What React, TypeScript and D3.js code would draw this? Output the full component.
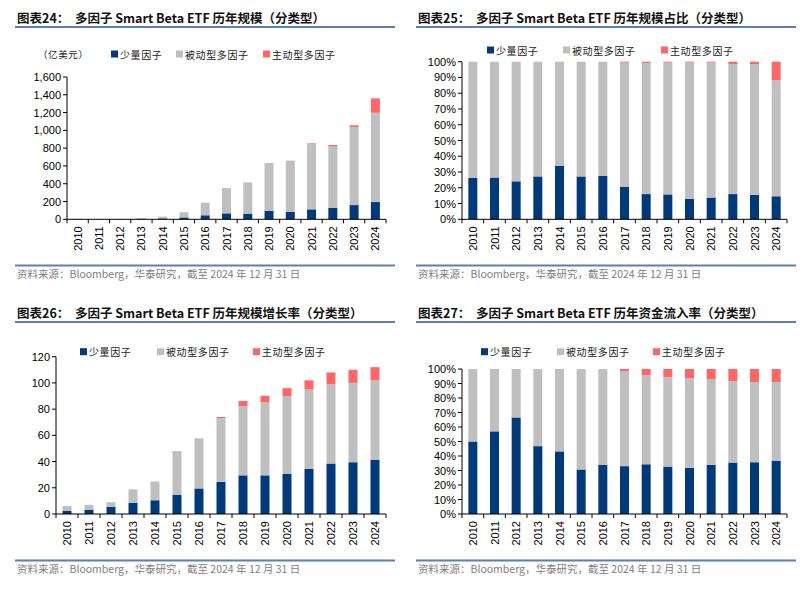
import * as d3 from 'd3';

const YEARS = ['2010', '2011', '2012', '2013', '2014', '2015', '2016', '2017', '2018', '2019', '2020', '2021', '2022', '2023', '2024'];
const SERIES_NAMES = ['少量因子', '被动型多因子', '主动型多因子'];
const COLORS = ['#003A7A', '#BFBFBF', '#FF6666'];

// 图表24 历年规模 (亿美元)
const AUM_FEW = [1.3, 0.5, 1, 4, 10, 21, 45, 67, 64, 97, 85, 112, 130, 160, 194];
const AUM_PASSIVE = [3.7, 1.5, 3, 11, 20, 58, 142, 277, 347, 533, 570, 741, 688, 875, 1004];
const AUM_ACTIVE = [0, 0, 0, 0, 0, 0, 0, 5, 3, 3, 3, 5, 17, 22, 162];
const AUM_TICKS = [0, 200, 400, 600, 800, 1000, 1200, 1400, 1600];

// 图表25 历年规模占比 (%)
const SHARE_FEW = [26.2, 26.5, 24.1, 27.2, 34, 27.2, 27.5, 20.5, 16, 15.8, 13, 13.8, 16, 15.5, 14.6];
const SHARE_PASSIVE = [73.8, 73.5, 75.9, 72.8, 66, 72.8, 72.5, 78.9, 83.2, 83.6, 86.4, 85.6, 82.5, 83, 73.6];
const SHARE_ACTIVE = [0, 0, 0, 0, 0, 0, 0, 0.6, 0.8, 0.6, 0.6, 0.6, 1.5, 1.5, 11.8];
const PCT_TICKS = [0, 10, 20, 30, 40, 50, 60, 70, 80, 90, 100];

// 图表26 历年规模增长率
const GROWTH_FEW = [2.5, 3.3, 5.5, 8.6, 10.5, 14.5, 19.5, 24.5, 29.5, 29.5, 30.5, 34.5, 38.5, 39.5, 41.5];
const GROWTH_PASSIVE = [3.5, 3.7, 3.5, 10.2, 14.3, 33.5, 38.3, 48.5, 52.9, 55.7, 59.5, 60.5, 60.5, 60.5, 60.5];
const GROWTH_ACTIVE = [0, 0, 0, 0, 0, 0, 0, 1, 3.8, 5, 6, 7, 9, 10, 10];
const GROWTH_TICKS = [0, 20, 40, 60, 80, 100, 120];

// 图表27 历年资金流入率 (%)
const FLOW_FEW = [50, 57, 66.6, 46.8, 43.2, 30.7, 34, 33, 34.3, 32.7, 31.8, 33.9, 35.5, 35.7, 36.8];
const FLOW_PASSIVE = [50, 43, 33.4, 53.2, 56.8, 69.3, 66, 65.6, 61.3, 61.8, 62, 59.2, 56.2, 55.3, 54.2];
const FLOW_ACTIVE = [0, 0, 0, 0, 0, 0, 0, 1.4, 4.4, 5.5, 6.2, 6.9, 8.3, 9, 9];

const SOURCE = '资料来源：Bloomberg，华泰研究，截至 2024 年 12 月 31 日';
const CJK = '"Noto Sans CJK SC", sans-serif';
const NUM = '"Liberation Sans", Arial, sans-serif';
const RULE = '#5F7FAF';

interface Box { l: number; r: number; t: number; b: number }

interface PanelProps {
  x0: number;
  y0: number;
  title: string;
  values: number[][];
  ticks: number[];
  fmt: (v: number) => string;
  plot: Box;
  legendY: number;
  legendXs: number[];
  unit?: string;
  sourceY: number;
}

function Panel({ x0, y0, title, values, ticks, fmt, plot, legendY, legendXs, unit, sourceY }: PanelProps) {
  const rows = YEARS.map((y, i) => ({ year: y, a: values[0][i], b: values[1][i], c: values[2][i] }));
  const stacked = d3.stack<{ year: string; a: number; b: number; c: number }>().keys(['a', 'b', 'c'])(rows);

  const x = d3.scaleBand().domain(YEARS).range([plot.l, plot.r]).padding(0);
  const y = d3.scaleLinear().domain([ticks[0], ticks[ticks.length - 1]]).range([plot.b, plot.t]);
  const barW = 9;
  const step = x.step();

  return (
    <g>
      <text x={x0 + 2} y={y0 + 22.5} fontFamily={CJK} fontWeight={700} fontSize={12.5} fill="#111" style={{ whiteSpace: 'pre' }}>
        {title}
      </text>
      <line x1={x0} x2={x0 + 380} y1={y0 + 27} y2={y0 + 27} stroke={RULE} strokeWidth={2} />

      {unit && (
        <text x={x0 + 23} y={legendY} dominantBaseline="central" fontFamily={CJK} fontSize={9.5} fill="#222" letterSpacing={0.6}>
          {unit}
        </text>
      )}

      {/* legend */}
      {SERIES_NAMES.map((name, i) => (
        <g key={name}>
          <rect x={legendXs[i]} y={legendY - 3.5} width={7} height={7} fill={COLORS[i]} />
          <text x={legendXs[i] + 9} y={legendY} dominantBaseline="central" fontFamily={CJK} fontSize={10} fill="#222" letterSpacing={0.6}>
            {name}
          </text>
        </g>
      ))}

      {/* bars */}
      {stacked.map((s, si) => (
        <g key={s.key} fill={COLORS[si]}>
          {s.map((d, i) => {
            const h = y(d[0]) - y(d[1]);
            if (h <= 0) return null;
            return (
              <rect
                key={i}
                x={(x(YEARS[i]) ?? 0) + (step - barW) / 2}
                y={y(d[1])}
                width={barW}
                height={h}
              />
            );
          })}
        </g>
      ))}

      {/* y axis */}
      <line x1={plot.l} x2={plot.l} y1={plot.t} y2={plot.b} stroke="#000" strokeWidth={1} />
      {ticks.map((t) => (
        <g key={t}>
          <line x1={plot.l - 4} x2={plot.l} y1={y(t)} y2={y(t)} stroke="#000" />
          <text x={plot.l - 6} y={y(t)} textAnchor="end" dominantBaseline="central" fontFamily={NUM} fontSize={11} fill="#000">
            {fmt(t)}
          </text>
        </g>
      ))}

      {/* x axis */}
      <line x1={plot.l} x2={plot.r} y1={plot.b} y2={plot.b} stroke="#000" strokeWidth={1} />
      {YEARS.map((yr, i) => {
        const bx = x(yr) ?? 0;
        return (
          <g key={yr}>
            <line x1={bx + step} x2={bx + step} y1={plot.b} y2={plot.b + 4} stroke="#000" />
            {i === 0 && <line x1={bx} x2={bx} y1={plot.b} y2={plot.b + 4} stroke="#000" />}
            <text
              transform={`translate(${bx + step / 2},${plot.b + 7}) rotate(-90)`}
              textAnchor="end"
              dominantBaseline="central"
              fontFamily={NUM}
              fontSize={11}
              fill="#000"
            >
              {yr}
            </text>
          </g>
        );
      })}

      {/* source */}
      <line x1={x0} x2={x0 + 380} y1={sourceY - 12.5} y2={sourceY - 12.5} stroke={RULE} strokeWidth={2} />
      <text x={x0 + 2} y={sourceY} fontFamily={CJK} fontSize={10.5} fill="#808080">
        {SOURCE}
      </text>
    </g>
  );
}

const fmtNum = d3.format(',');
const fmtPct = (v: number) => `${v}%`;
const fmtInt = (v: number) => `${v}`;

export default function App() {
  return (
    <svg
      width={805}
      height={591}
      viewBox="0 0 805 591"
      style={{ position: 'absolute', left: 0, top: 0, background: '#fff', display: 'block' }}
    >
      <rect width={805} height={591} fill="#fff" />
      <Panel
        x0={15}
        y0={0}
        title="图表24：  多因子 Smart Beta ETF 历年规模（分类型）"
        values={[AUM_FEW, AUM_PASSIVE, AUM_ACTIVE]}
        ticks={AUM_TICKS}
        fmt={fmtNum}
        plot={{ l: 67, r: 386, t: 77, b: 219.3 }}
        legendY={54}
        legendXs={[111, 176, 263]}
        unit="（亿美元）"
        sourceY={278}
      />
      <Panel
        x0={416}
        y0={0}
        title="图表25：  多因子 Smart Beta ETF 历年规模占比（分类型）"
        values={[SHARE_FEW, SHARE_PASSIVE, SHARE_ACTIVE]}
        ticks={PCT_TICKS}
        fmt={fmtPct}
        plot={{ l: 462, r: 787, t: 61.7, b: 219.3 }}
        legendY={50}
        legendXs={[487, 563, 661]}
        sourceY={278}
      />
      <Panel
        x0={15}
        y0={295}
        title="图表26：  多因子 Smart Beta ETF 历年规模增长率（分类型）"
        values={[GROWTH_FEW, GROWTH_PASSIVE, GROWTH_ACTIVE]}
        ticks={GROWTH_TICKS}
        fmt={fmtInt}
        plot={{ l: 56, r: 386, t: 356.7, b: 514 }}
        legendY={351.7}
        legendXs={[80, 157, 253]}
        sourceY={573}
      />
      <Panel
        x0={416}
        y0={295}
        title="图表27：  多因子 Smart Beta ETF 历年资金流入率（分类型）"
        values={[FLOW_FEW, FLOW_PASSIVE, FLOW_ACTIVE]}
        ticks={PCT_TICKS}
        fmt={fmtPct}
        plot={{ l: 462, r: 787, t: 369, b: 514 }}
        legendY={351.7}
        legendXs={[481, 557, 653]}
        sourceY={573}
      />
    </svg>
  );
}
